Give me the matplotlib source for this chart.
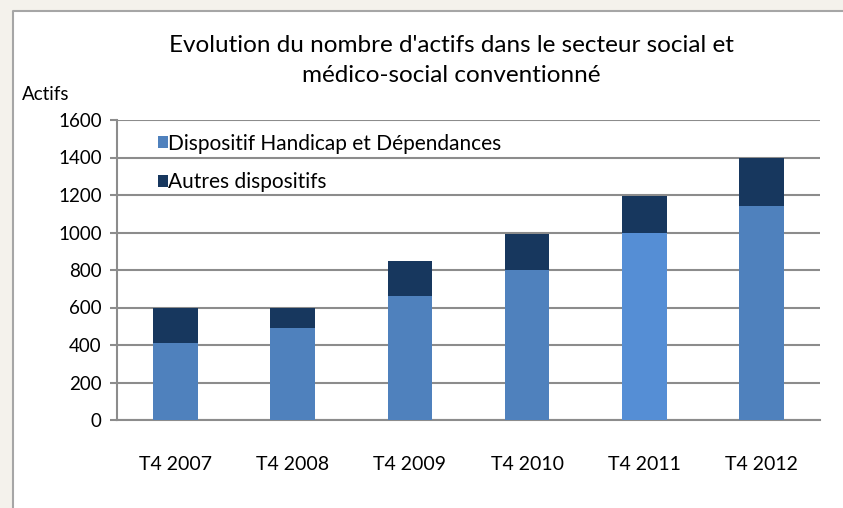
import matplotlib
matplotlib.use("Agg")
import matplotlib.pyplot as plt
from matplotlib.patches import Rectangle

plt.rcParams['font.family'] = ['Lato', 'DejaVu Sans']

# Data
categories = ["T4 2007", "T4 2008", "T4 2009", "T4 2010", "T4 2011", "T4 2012"]
handicap = [410, 490, 660, 800, 1000, 1140]
autres = [190, 110, 190, 190, 195, 255]
yticks = [0, 200, 400, 600, 800, 1000, 1200, 1400, 1600]

W, H = 843, 508
fig = plt.figure(figsize=(W / 100, H / 100), dpi=100)
fig.patch.set_facecolor("#F4F2EC")

# white chart frame (screenshot of a spreadsheet chart), drawn in a background axes
bg = fig.add_axes([0, 0, 1, 1], zorder=-10)
bg.set_xlim(0, W)
bg.set_ylim(H, 0)
bg.axis("off")
bg.add_patch(Rectangle((13, 11), W, H, facecolor="white", edgecolor="none"))
bg.plot([13, 13, W], [H, 11, 11], color="#A6A6A6", linewidth=1.5)

ax = fig.add_axes([117 / W, 1 - 420 / H, (820 - 117) / W, 300 / H])
ax.set_facecolor("none")

x = range(len(categories))
bottom_colors = ["#4F81BD"] * len(categories)
bottom_colors[4] = "#558ED5"
ax.bar(x, handicap, width=0.38, color=bottom_colors, label="Dispositif Handicap et Dépendances", zorder=3)
ax.bar(x, autres, width=0.38, bottom=handicap, color="#17375E", label="Autres dispositifs", zorder=3)

ax.set_xlim(-0.5, len(categories) - 0.5)
ax.set_ylim(0, 1600)
ax.set_yticks(yticks)
ax.set_xticks(list(x))
ax.set_xticklabels(categories)
ax.yaxis.grid(True, color="#8C8C8C", linewidth=1.5, zorder=0)
ax.set_axisbelow(True)

for s in ["top", "right"]:
    ax.spines[s].set_visible(False)
for s in ["left", "bottom"]:
    ax.spines[s].set_color("#8C8C8C")
    ax.spines[s].set_linewidth(1.5)

ax.tick_params(axis="y", length=5, color="#8C8C8C", width=1.5, labelsize=13.5, pad=6)
ax.tick_params(axis="x", length=0, labelsize=14, pad=26)

leg = ax.legend(loc="upper left", bbox_to_anchor=(0.046, 0.982), frameon=False,
                fontsize=15, handlelength=0.5, handleheight=0.5, handletextpad=0.0,
                labelspacing=0.9, borderaxespad=0)

fig.text(0.535, 1 - 45 / H, "Evolution du nombre d'actifs dans le secteur social et",
         ha="center", va="center", fontsize=17.5)
fig.text(0.535, 1 - 75 / H, "médico-social conventionné",
         ha="center", va="center", fontsize=17.5)
fig.text(22 / W, 1 - 95 / H, "Actifs", ha="left", va="center", fontsize=13.5)

fig.savefig("out.png", dpi=100, facecolor=fig.get_facecolor())
